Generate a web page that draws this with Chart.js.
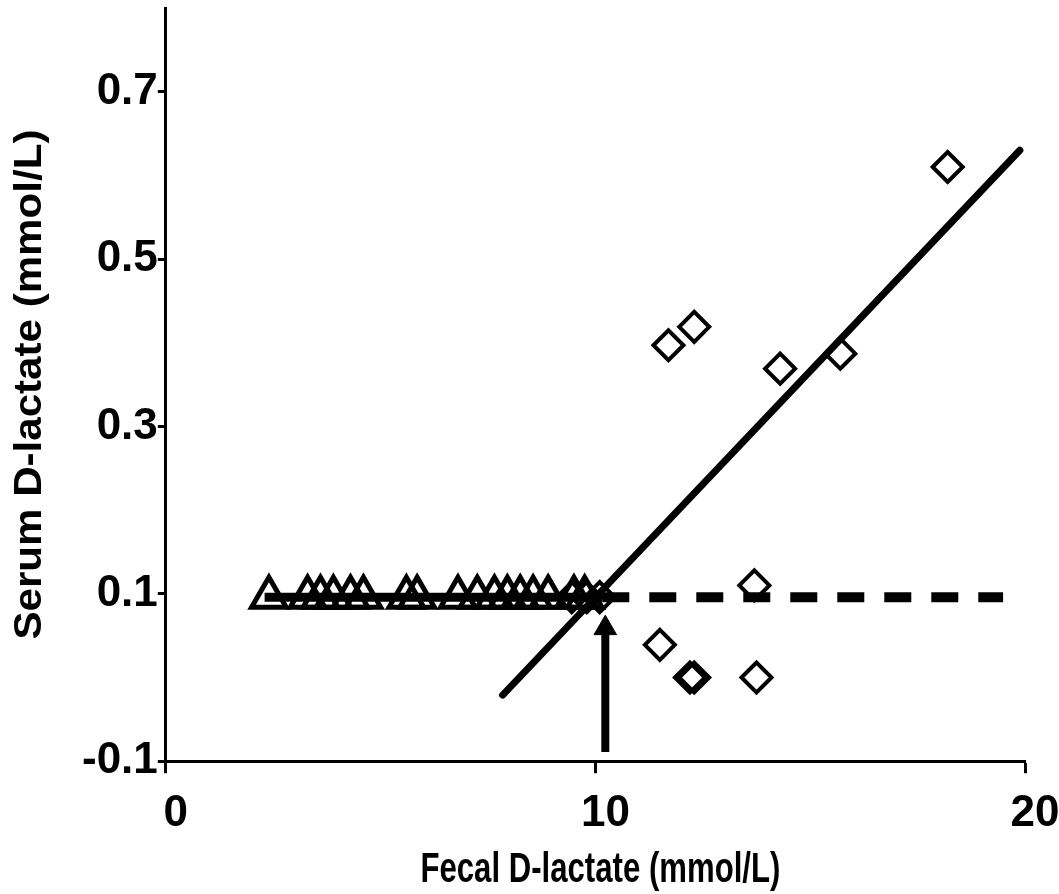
<!DOCTYPE html>
<html>
<head>
<meta charset="utf-8">
<script src="https://cdn.jsdelivr.net/npm/chart.js@4"></script>
<style>
  html, body { margin: 0; padding: 0; background: #fff; }
  #wrap { width: 1059px; height: 894px; }
</style>
</head>
<body>
<div id="wrap"><canvas id="lactateChart" width="1059" height="894"></canvas></div>
<script>
// children below the cut-off: serum stays at detection limit
const lowFecal = [2.4, 3.3, 3.6, 3.9, 4.3, 4.6, 5.6, 5.85, 6.8, 7.25, 7.65, 7.95, 8.25, 8.55, 8.9, 9.5, 9.75];
const lowSerum = [0.096, 0.096, 0.096, 0.096, 0.096, 0.096, 0.096, 0.096, 0.096, 0.096, 0.096, 0.096, 0.096, 0.096, 0.096, 0.096, 0.096];

// children above the cut-off
const highFecal = [9.45, 9.8, 10.1, 11.5, 11.7, 12.2, 12.3, 12.3, 13.7, 13.75, 14.3, 15.7, 18.2];
const highSerum = [0.096, 0.096, 0.096, 0.039, 0.397, 0.0, 0.0, 0.419, 0.11, 0.0, 0.369, 0.387, 0.61];

// regression line ends
const fitFecal = [7.84, 19.88];
const fitSerum = [-0.021, 0.63];

// detection limit line (solid under the triangles, dashed beyond cut-off)
const limitSolidFecal = [2.3, 10.16];
const limitDashFecal = [10.16, 19.49];
const limitSerum = [0.096, 0.096];

// arrow marking the cut-off
const arrowFecal = [10.23, 10.23];
const arrowSerum = [-0.089, 0.057];
const arrowHead = [{ x: 10.23, y: 0.059 }];

const xTicks = [0, 10, 20];
const yTicks = [-0.1, 0.1, 0.3, 0.5, 0.7];

const xTitle = 'Fecal D-lactate (mmol/L)';
const yTitle = 'Serum D-lactate (mmol/L)';

const pts = (xs, ys) => xs.map((x, i) => ({ x: x, y: ys[i] }));

const FONT = "'Liberation Sans', Arial, sans-serif";

const lineSet = (data, width, dash, cap) => ({
    data: data,
    showLine: true,
    borderColor: '#000',
    borderWidth: width,
    borderDash: dash,
    borderCapStyle: cap,
    pointRadius: 0,
    fill: false
});

// the original titles are squeezed / stretched, so draw them by hand
const axisTitles = {
    id: 'axisTitles',
    afterDraw(chart) {
        const c = chart.ctx;
        const area = chart.chartArea;
        c.save();
        c.fillStyle = '#000';
        c.textAlign = 'center';
        c.textBaseline = 'middle';

        c.font = 'bold 42px ' + FONT;
        let w = c.measureText(xTitle).width;
        c.translate((area.left + area.right) / 2 + 5, 870);
        c.scale(360 / w, 1);
        c.fillText(xTitle, 0, 0);
        c.restore();

        c.save();
        c.fillStyle = '#000';
        c.textAlign = 'center';
        c.textBaseline = 'middle';
        c.font = 'bold 38px ' + FONT;
        w = c.measureText(yTitle).width;
        c.translate(31, (area.top + area.bottom) / 2);
        c.rotate(-Math.PI / 2);
        c.scale(510 / w, 1);
        c.fillText(yTitle, 0, 0);
        c.restore();
    }
};

const ctx = document.getElementById('lactateChart').getContext('2d');

new Chart(ctx, {
    type: 'scatter',
    data: {
        datasets: [
            {
                data: pts(lowFecal, lowSerum),
                pointStyle: 'triangle',
                pointRadius: 20,
                borderColor: '#000',
                borderWidth: 5,
                backgroundColor: 'rgba(0,0,0,0)'
            },
            {
                data: pts(highFecal, highSerum),
                pointStyle: 'rectRot',
                pointRadius: 15,
                borderColor: '#000',
                borderWidth: 4,
                backgroundColor: 'rgba(0,0,0,0)'
            },
            lineSet(pts(fitFecal, fitSerum), 7, [], 'round'),
            lineSet(pts(limitSolidFecal, limitSerum), 9, [], 'butt'),
            lineSet(pts(limitDashFecal, limitSerum), 10, [27, 20], 'butt'),
            lineSet(pts(arrowFecal, arrowSerum), 8, [], 'butt'),
            {
                data: arrowHead,
                pointStyle: 'triangle',
                pointRadius: 13,
                borderColor: '#000',
                borderWidth: 1,
                backgroundColor: '#000'
            }
        ]
    },
    options: {
        responsive: false,
        animation: false,
        layout: { autoPadding: false, padding: { left: 82, right: 34, top: 8, bottom: 40 } },
        plugins: {
            legend: { display: false },
            tooltip: { enabled: false }
        },
        scales: {
            x: {
                type: 'linear',
                min: 0,
                max: 20,
                afterBuildTicks: (axis) => { axis.ticks = xTicks.map(v => ({ value: v })); },
                afterFit: (axis) => { axis.paddingLeft = 0; axis.paddingRight = 0; },
                grid: { drawOnChartArea: false, drawTicks: true, tickLength: 12, tickWidth: 3, color: '#000' },
                border: { color: '#000', width: 3 },
                ticks: {
                    color: '#000',
                    font: { family: FONT, size: 44, weight: 'bold' },
                    padding: 14,
                    labelOffset: 10,
                    maxRotation: 0
                }
            },
            y: {
                type: 'linear',
                min: -0.1,
                max: 0.8,
                afterBuildTicks: (axis) => { axis.ticks = yTicks.map(v => ({ value: v })); },
                grid: { drawOnChartArea: false, drawTicks: true, tickLength: 8, tickWidth: 3, color: '#000' },
                border: { color: '#000', width: 3 },
                ticks: {
                    color: '#000',
                    font: { family: FONT, size: 44, weight: 'bold', lineHeight: 0.35 },
                    padding: 0,
                    callback: (v) => v.toFixed(1)
                }
            }
        }
    },
    plugins: [axisTitles]
});
</script>
</body>
</html>
